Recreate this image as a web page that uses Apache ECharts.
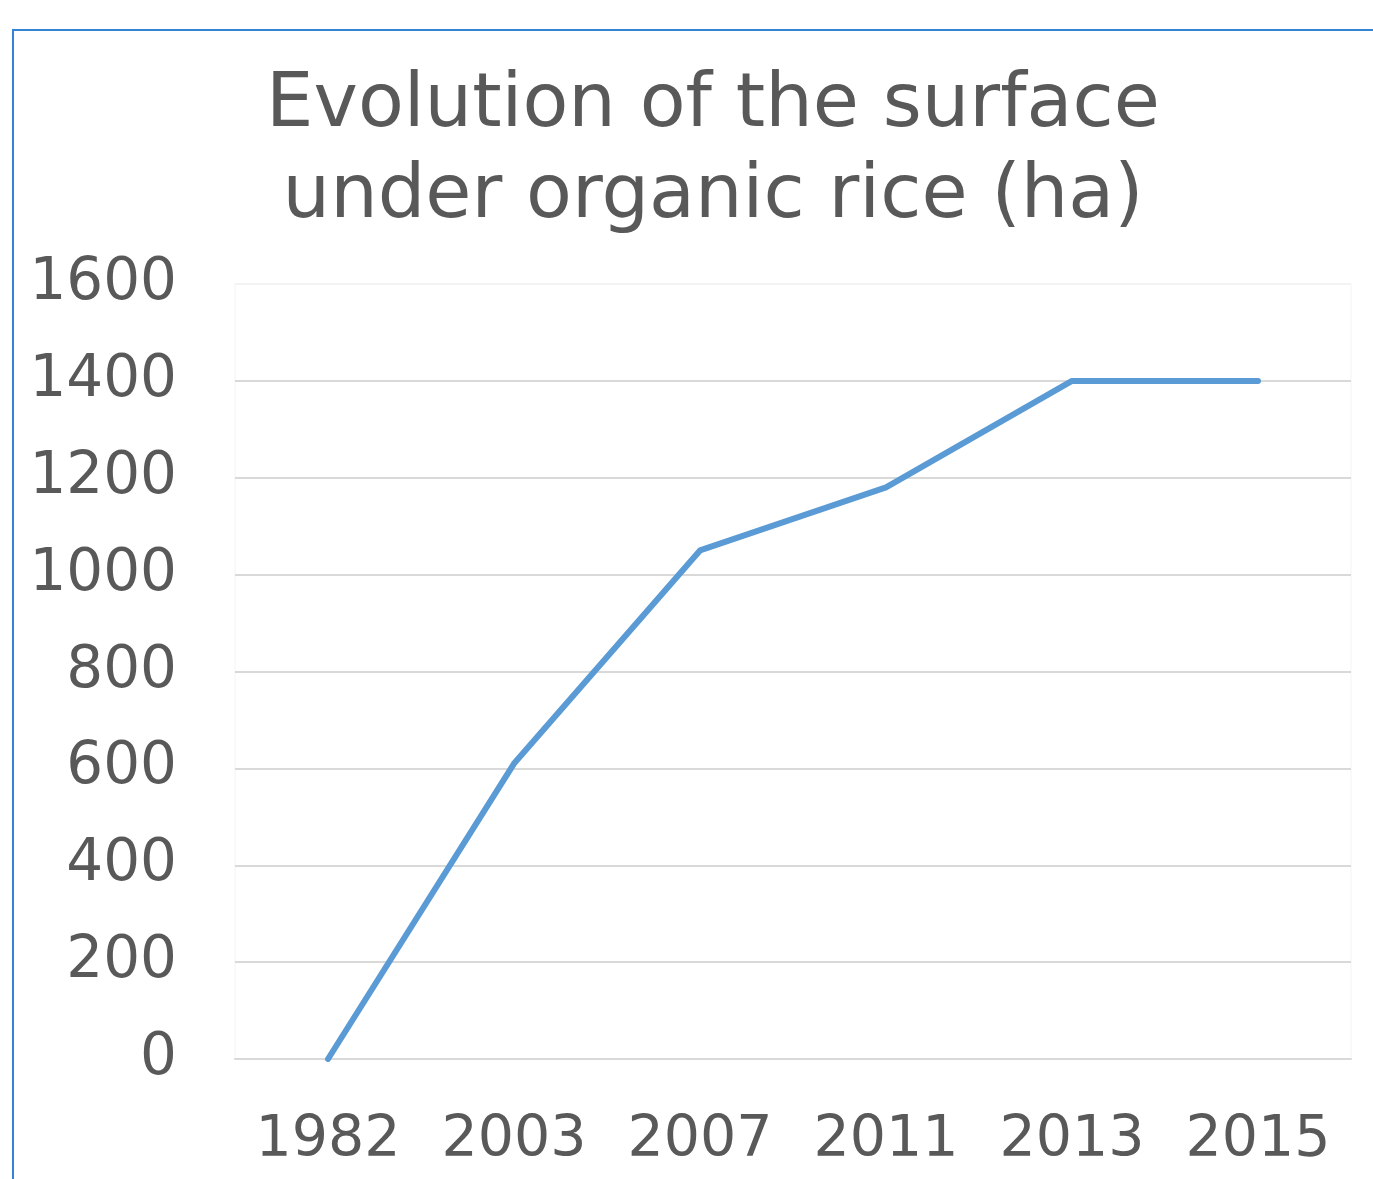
<!DOCTYPE html>
<html>
<head>
<meta charset="utf-8">
<script src="https://cdn.jsdelivr.net/npm/echarts@6/dist/echarts.min.js"></script>
<style>
html,body{margin:0;padding:0;background:#fff;}
#chart{width:1373px;height:1179px;}
</style>
</head>
<body>
<div id="chart"></div>
<script>
const titleText = 'Evolution of the surface\nunder organic rice (ha)';
const years = ['1982', '2003', '2007', '2011', '2013', '2015'];
const surfaceHa = [0, 610, 1050, 1180, 1400, 1400];
const yMin = 0, yMax = 1600, yStep = 200;

const chart = echarts.init(document.getElementById('chart'), null, {renderer: 'canvas'});
const font = '"DejaVu Sans", Verdana, sans-serif';
const gridColors = ['#d9d9d9','#d9d9d9','#d9d9d9','#d9d9d9','#d9d9d9','#d9d9d9','#d9d9d9','#d9d9d9','#f3f3f3'];
chart.setOption({
  animation: false,
  backgroundColor: '#ffffff',
  title: {
    text: titleText,
    left: 708,
    textAlign: 'center',
    top: 56,
    textStyle: {
      fontFamily: font,
      fontSize: 75,
      fontWeight: 'normal',
      color: '#595959',
      lineHeight: 91
    }
  },
  graphic: [{
    type: 'rect',
    shape: {x: 13, y: 30, width: 1500, height: 1500},
    style: {fill: 'none', stroke: '#3483d4', lineWidth: 2},
    silent: true,
    z: -1
  }],
  grid: {
    left: 235, right: 22, top: 284, bottom: 120,
    show: true, borderColor: '#f4f4f4', borderWidth: 1
  },
  xAxis: {
    type: 'category',
    data: years,
    boundaryGap: true,
    axisLine: {show: true, lineStyle: {color: '#d9d9d9', width: 2}},
    axisTick: {show: false},
    axisLabel: {fontFamily: font, fontSize: 57, color: '#595959', margin: 54, interval: 0}
  },
  yAxis: {
    type: 'value',
    min: yMin, max: yMax, interval: yStep,
    axisLine: {show: false},
    axisTick: {show: false},
    splitLine: {lineStyle: {color: gridColors, width: 2}},
    axisLabel: {fontFamily: font, fontSize: 58, color: '#595959', margin: 58,
      formatter: function (v) { return String(v); }}
  },
  series: [{
    type: 'line',
    data: surfaceHa,
    symbol: 'none',
    lineStyle: {color: '#5b9bd5', width: 6, cap: 'round', join: 'round'}
  }]
});
</script>
</body>
</html>
